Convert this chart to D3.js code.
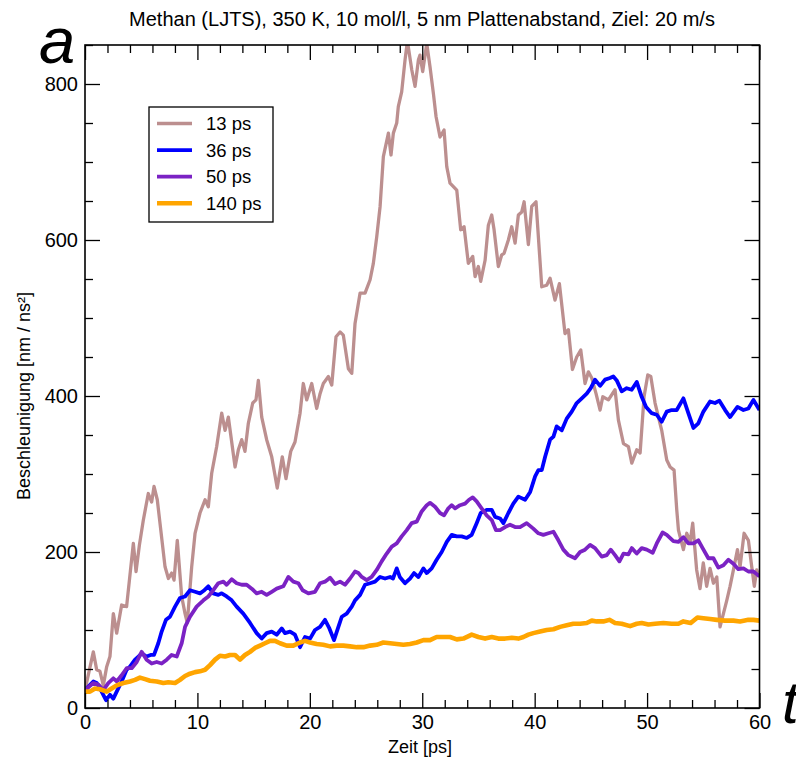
<!DOCTYPE html>
<html>
<head>
<meta charset="utf-8">
<script src="https://cdn.jsdelivr.net/npm/d3@7"></script>
<style>
body{margin:0;background:#fff;}
svg{display:block;font-family:"Liberation Sans",Arial,sans-serif;}
</style>
</head>
<body>
<main></main>
<script>
// data: [Zeit ps, Beschleunigung nm/ns^2]
const series13 = [[0,23],[0.74,72],[1.04,49],[1.33,47],[1.63,29],[1.93,53],[2.22,66],[2.52,121],[2.82,96],[3.26,132],[3.7,130],[4.3,211],[4.54,175],[4.84,209],[5.19,241],[5.63,275],[5.93,264],[6.14,284],[6.43,267],[6.67,237],[7.12,181],[7.42,166],[7.71,173],[7.92,164],[8.21,215],[8.6,143],[8.9,121],[9.1,109],[9.49,181],[9.79,224],[10.23,250],[10.68,267],[10.97,258],[11.27,301],[11.71,335],[12.16,378],[12.46,356],[12.75,373],[13.35,309],[13.64,331],[13.94,344],[14.23,329],[14.53,365],[14.92,391],[15.21,395],[15.42,420],[15.72,373],[16.16,344],[16.61,322],[17.1,282],[17.55,322],[17.88,294],[18.3,329],[18.68,341],[19.13,378],[19.42,416],[19.72,395],[20.17,416],[20.61,384],[20.91,403],[21.2,416],[21.65,425],[21.95,414],[22.33,476],[22.69,482],[22.98,478],[23.43,435],[23.73,429],[24.02,493],[24.47,532],[24.91,532],[25.36,549],[25.65,570],[25.95,604],[26.25,643],[26.54,707],[26.99,737],[27.22,709],[27.43,737],[27.73,750],[27.87,771],[28.17,790],[28.47,831],[28.68,855],[29.07,818],[29.36,797],[29.66,831],[29.8,837],[30.04,816],[30.4,852],[30.69,822],[30.99,788],[31.23,758],[31.58,732],[31.94,741],[32.18,694],[32.47,673],[33.07,664],[33.42,613],[33.72,617],[34.1,570],[34.49,579],[34.7,553],[34.99,566],[35.2,547],[35.59,574],[35.88,619],[36.18,632],[36.39,613],[36.77,566],[37.07,581],[37.28,583],[37.66,600],[37.96,617],[38.26,596],[38.55,632],[38.85,636],[39.06,649],[39.44,594],[39.74,643],[40.12,649],[40.63,540],[41.07,542],[41.37,551],[41.81,523],[42.2,544],[42.7,480],[43.0,485],[43.36,434],[43.74,450],[44.1,459],[44.48,416],[44.78,431],[45.08,423],[45.46,403],[45.82,382],[46.06,399],[46.56,395],[47.15,408],[47.45,369],[47.9,339],[48.34,335],[48.64,314],[49.08,331],[49.38,327],[49.73,399],[50.06,427],[50.33,425],[50.71,391],[51.3,356],[51.75,318],[52.05,309],[52.4,305],[52.64,254],[52.79,228],[53.23,203],[53.53,224],[53.83,213],[54.06,237],[54.41,177],[54.71,153],[55.0,186],[55.3,156],[55.6,179],[55.9,160],[56.2,168],[56.49,104],[56.79,121],[57.09,138],[57.38,156],[57.68,177],[58.04,203],[58.27,181],[58.63,224],[59.01,215],[59.31,181],[59.54,156],[59.75,177],[60,168]];

const series36 = [[0,23],[0.74,34],[1.04,32],[1.48,21],[1.87,10],[2.22,17],[2.52,12],[2.82,21],[3.26,34],[3.7,49],[4.0,53],[4.45,62],[4.75,66],[5.04,70],[5.48,66],[5.84,68],[6.14,68],[6.52,83],[6.82,98],[7.2,113],[7.56,117],[8.01,130],[8.45,141],[8.9,143],[9.34,151],[9.79,149],[10.23,147],[10.62,151],[10.97,156],[11.41,147],[11.86,145],[12.16,147],[12.6,143],[13.05,138],[13.49,130],[14.08,121],[14.68,109],[15.27,96],[15.72,89],[16.16,96],[16.61,98],[17.05,94],[17.5,102],[17.79,96],[18.24,98],[18.68,94],[19.13,78],[19.57,91],[20.02,89],[20.46,100],[20.91,104],[21.35,113],[21.74,102],[22.15,87],[22.54,104],[22.84,117],[23.28,121],[23.73,130],[24.02,138],[24.47,145],[24.91,158],[25.36,160],[25.8,162],[26.25,168],[26.69,166],[27.14,168],[27.4,166],[27.73,179],[28.0,168],[28.47,160],[28.91,166],[29.27,173],[29.66,168],[30.1,179],[30.4,173],[30.84,179],[31.28,190],[31.73,200],[32.18,213],[32.62,222],[33.06,220],[33.51,220],[33.96,218],[34.4,222],[34.84,237],[35.2,250],[35.73,254],[36.18,254],[36.48,245],[36.92,243],[37.22,237],[37.66,250],[38.1,262],[38.55,271],[39.15,267],[39.6,277],[40.04,297],[40.33,305],[40.63,305],[40.93,322],[41.37,344],[41.67,348],[41.96,361],[42.41,356],[42.85,371],[43.3,380],[43.74,391],[44.19,397],[44.63,403],[44.99,410],[45.37,421],[45.82,413],[46.26,421],[46.7,423],[47.0,425],[47.3,420],[47.74,406],[48.19,410],[48.63,408],[49.08,418],[49.52,399],[49.91,386],[50.41,378],[50.86,376],[51.3,367],[51.75,380],[52.19,382],[52.64,382],[53.23,397],[53.67,378],[54.12,359],[54.56,365],[55.01,380],[55.6,393],[56.04,391],[56.43,394],[56.94,382],[57.38,373],[58.04,386],[58.57,382],[59.01,384],[59.46,395],[60,382]];

const series50 = [[0,23],[0.74,32],[1.19,30],[1.63,23],[2.07,32],[2.52,38],[2.82,34],[3.26,42],[3.7,51],[4.15,51],[4.6,59],[5.04,72],[5.48,62],[5.93,57],[6.38,59],[6.82,57],[7.27,62],[7.71,68],[8.16,66],[8.6,83],[8.9,104],[9.34,117],[9.93,130],[10.53,138],[10.97,143],[11.41,151],[11.86,160],[12.31,162],[12.6,158],[13.05,165],[13.49,160],[13.94,158],[14.38,158],[14.83,153],[15.27,147],[15.72,149],[16.16,145],[16.61,149],[17.05,153],[17.64,156],[18.09,168],[18.53,162],[18.98,160],[19.36,151],[19.87,147],[20.46,149],[20.91,160],[21.35,162],[21.8,167],[22.24,159],[22.69,162],[23.13,158],[23.58,166],[24.02,175],[24.32,173],[24.62,168],[25.06,164],[25.5,168],[25.95,177],[26.39,188],[26.84,198],[27.29,207],[27.73,211],[28.17,220],[28.62,228],[29.06,237],[29.51,239],[29.95,252],[30.4,260],[30.69,263],[31.14,258],[31.58,250],[31.94,247],[32.32,256],[32.62,260],[32.92,256],[33.36,260],[33.81,262],[34.16,267],[34.49,270],[34.84,265],[35.28,256],[35.73,247],[36.18,241],[36.56,228],[36.92,228],[37.37,232],[37.81,235],[38.26,232],[38.7,232],[39.29,237],[39.88,230],[40.33,224],[40.77,222],[41.22,224],[41.67,226],[42.11,215],[42.55,203],[43.0,196],[43.59,192],[44.04,200],[44.48,203],[44.93,209],[45.37,205],[45.97,194],[46.41,196],[46.77,203],[47.15,196],[47.54,188],[47.9,198],[48.34,197],[48.64,205],[49.08,198],[49.52,205],[49.97,203],[50.5,199],[50.86,211],[51.38,225],[51.75,222],[52.34,214],[52.79,213],[53.23,219],[53.67,211],[54.12,211],[54.56,215],[54.94,205],[55.45,192],[55.9,192],[56.34,180],[56.79,183],[57.23,190],[57.68,185],[58.12,178],[58.57,179],[59.01,175],[59.46,175],[59.81,171],[60,169]];

const series140 = [[0,21],[0.44,21],[0.89,25],[1.33,24],[1.93,21],[2.37,25],[2.82,29],[3.41,32],[4.0,34],[4.45,36],[4.89,39],[5.34,37],[5.78,35],[6.38,34],[6.97,32],[7.41,33],[8.01,32],[8.45,36],[8.9,41],[9.34,44],[9.79,46],[10.23,47],[10.68,49],[11.12,55],[11.57,62],[12.01,67],[12.46,66],[12.9,68],[13.35,68],[13.79,62],[14.23,68],[14.68,72],[15.12,77],[15.57,80],[16.01,83],[16.46,86],[16.9,86],[17.35,83],[17.94,80],[18.53,80],[19.13,84],[19.57,86],[20.02,84],[20.61,82],[21.2,81],[21.8,79],[22.39,80],[22.98,80],[23.58,79],[24.17,78],[24.77,78],[25.36,80],[25.95,81],[26.54,84],[27.14,83],[27.73,82],[28.32,81],[28.91,82],[29.51,84],[30.1,87],[30.69,87],[31.28,91],[31.88,91],[32.47,91],[33.07,88],[33.66,89],[34.4,94],[34.99,91],[35.59,89],[36.18,91],[36.77,89],[37.37,89],[37.96,90],[38.55,89],[39.0,91],[39.44,94],[39.88,96],[40.48,98],[41.07,100],[41.67,101],[42.26,104],[42.85,106],[43.44,108],[44.04,108],[44.63,109],[45.08,112],[45.52,111],[46.11,111],[46.65,113],[47.15,109],[47.74,108],[48.49,105],[49.08,108],[49.52,109],[50.12,107],[50.71,108],[51.45,109],[52.19,108],[52.79,108],[53.23,111],[53.88,109],[54.48,116],[55.01,115],[55.6,114],[56.2,113],[56.94,112],[57.68,112],[58.27,111],[59.01,113],[59.46,113],[60,112]];

const legendLabels = ["13 ps","36 ps","50 ps","140 ps"];
const xTicks = [0,10,20,30,40,50,60];
const yTicks = [0,200,400,600,800];

const width = 796, height = 760;
const svg = d3.select("main").append("svg")
  .attr("width", width)
  .attr("height", height);

const xScale = d3.scaleLinear().domain([0,60]).range([85,759.5]);
const yScale = d3.scaleLinear().domain([0,850]).range([708,45]);

const sets = [
  {data: series13, color: "#bc8f8f", w: 3.3},
  {data: series36, color: "#0000ff", w: 3.8},
  {data: series50, color: "#7b22c4", w: 3.8},
  {data: series140, color: "#ffa500", w: 4.6}
];

svg.append("clipPath").attr("id","plotclip")
  .append("rect").attr("x",85).attr("y",45).attr("width",674.5).attr("height",663);

var line = d3.line().x(d => xScale(d[0])).y(d => yScale(d[1]));

svg.append("g").attr("clip-path","url(#plotclip)")
  .selectAll("path")
  .data(sets)
  .enter()
  .append("path")
  .attr("d", d => line(d.data))
  .attr("fill","none")
  .attr("stroke", d => d.color)
  .attr("stroke-width", d => d.w)
  .attr("stroke-linejoin","round");

// axes, ticks pointing inwards
function styleAxis(g){
  g.select(".domain").remove();
  g.selectAll(".tick line").attr("stroke","#000").attr("stroke-width",1.3);
  g.selectAll(".tick text").attr("fill","#000").style("font-size","20px").style("font-family","'Liberation Sans',Arial,sans-serif");
}
const xMinor = d3.range(0,61,2).filter(v => v%10 !== 0);
const yMinor = d3.range(0,851,50).filter(v => v%200 !== 0);

svg.append("g").attr("transform","translate(0,708)")
  .call(d3.axisBottom(xScale).tickValues(xTicks).tickSizeInner(-15).tickSizeOuter(0).tickPadding(7).tickFormat(d3.format("d")))
  .call(styleAxis);
svg.append("g").attr("transform","translate(0,708)")
  .call(d3.axisBottom(xScale).tickValues(xMinor).tickSizeInner(-8).tickSizeOuter(0).tickFormat(""))
  .call(styleAxis);
svg.append("g").attr("transform","translate(0,45)")
  .call(d3.axisTop(xScale).tickValues(xTicks).tickSizeInner(-15).tickSizeOuter(0).tickFormat(""))
  .call(styleAxis);
svg.append("g").attr("transform","translate(0,45)")
  .call(d3.axisTop(xScale).tickValues(xMinor).tickSizeInner(-8).tickSizeOuter(0).tickFormat(""))
  .call(styleAxis);

svg.append("g").attr("transform","translate(85,0)")
  .call(d3.axisLeft(yScale).tickValues(yTicks).tickSizeInner(-15).tickSizeOuter(0).tickPadding(7).tickFormat(d3.format("d")))
  .call(styleAxis);
svg.append("g").attr("transform","translate(85,0)")
  .call(d3.axisLeft(yScale).tickValues(yMinor).tickSizeInner(-8).tickSizeOuter(0).tickFormat(""))
  .call(styleAxis);
svg.append("g").attr("transform","translate(759.5,0)")
  .call(d3.axisRight(yScale).tickValues(yTicks).tickSizeInner(-15).tickSizeOuter(0).tickFormat(""))
  .call(styleAxis);
svg.append("g").attr("transform","translate(759.5,0)")
  .call(d3.axisRight(yScale).tickValues(yMinor).tickSizeInner(-8).tickSizeOuter(0).tickFormat(""))
  .call(styleAxis);

// frame
svg.append("rect")
  .attr("x",85).attr("y",45).attr("width",674.5).attr("height",663)
  .attr("fill","none").attr("stroke","#000").attr("stroke-width",1.6);

// titles
svg.append("text")
  .attr("x",422).attr("y",26)
  .attr("text-anchor","middle")
  .style("font-size","20px")
  .text("Methan (LJTS), 350 K, 10 mol/l, 5 nm Plattenabstand, Ziel: 20 m/s");

svg.append("text")
  .attr("x",420).attr("y",753)
  .attr("text-anchor","middle")
  .style("font-size","18px")
  .text("Zeit [ps]");

svg.append("text")
  .attr("transform","translate(30,396) rotate(-90)")
  .attr("text-anchor","middle")
  .style("font-size","18px")
  .text("Beschleunigung [nm / ns²]");

svg.append("text")
  .attr("x",39).attr("y",63)
  .style("font-size","65px").style("font-style","italic")
  .text("a");

svg.append("text")
  .attr("x",782).attr("y",723)
  .style("font-size","60px").style("font-style","italic")
  .text("t");

// legend
var legend = svg.append("g");
legend.append("rect")
  .attr("x",149).attr("y",107).attr("width",124).attr("height",115)
  .attr("fill","#fff").attr("stroke","#000").attr("stroke-width",1.3);

var rows = legend.selectAll(".row")
  .data(sets)
  .enter()
  .append("g")
  .attr("class","row")
  .attr("transform",(d,i) => "translate(0," + (123.5 + i*26.6) + ")");
rows.append("line")
  .attr("x1",157).attr("x2",192)
  .attr("stroke", d => d.color)
  .attr("stroke-width", d => d.w);
rows.append("text")
  .attr("x",206).attr("y",6.5)
  .style("font-size","18.5px")
  .text((d,i) => legendLabels[i]);
</script>
</body>
</html>
